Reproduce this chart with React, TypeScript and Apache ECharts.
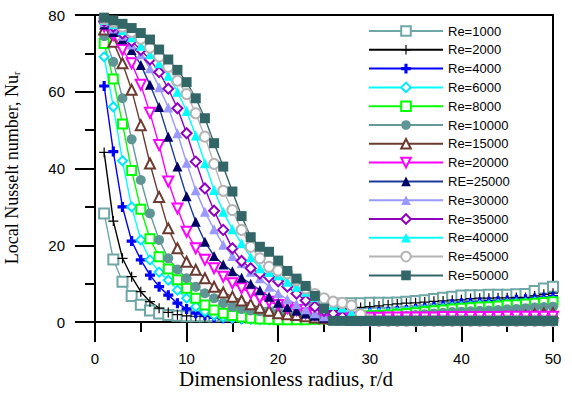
import React, { useEffect, useRef } from "react";
import * as echarts from "echarts";

const radius = [
  1, 2, 3, 4, 5, 6, 7, 8, 9, 10, 11, 12, 13, 14, 15, 16, 17, 18, 19, 20, 21, 22, 23, 24, 25,
  26, 27, 28, 29, 30, 31, 32, 33, 34, 35, 36, 37, 38, 39, 40, 41, 42, 43, 44, 45, 46, 47, 48, 49, 50,
];

const xTicks = { min: 0, max: 50, interval: 10 };
const yTicks = { min: 0, max: 80, interval: 20 };
const xTitle = "Dimensionless radius, r/d";
const yTitle = "Local Nusselt number, Nu";
const yTitleSub = "r";

const re1000 = [
  28.3, 16.3, 10.5, 6.8, 4.5, 3.0, 2.2, 1.8, 1.6, 1.5,
  1.5, 1.5, 1.5, 1.6, 1.7, 1.9, 2.1, 2.3, 2.4, 2.5,
  2.6, 2.8, 3.2, 3.7, 4.2, 4.6, 4.8, 4.9, 4.9, 5.0,
  5.0, 5.0, 5.1, 5.3, 5.5, 5.7, 6.0, 6.3, 6.6, 6.9,
  7.0, 7.0, 7.1, 7.1, 7.1, 7.2, 7.3, 8.1, 8.7, 9.2,
];
const re2000 = [
  44.2, 26.3, 16.6, 11.8, 7.9, 5.3, 3.6, 2.5, 1.9, 1.6,
  1.5, 1.4, 1.4, 1.4, 1.4, 1.4, 1.5, 1.5, 1.6, 1.7,
  1.8, 2.0, 2.2, 2.5, 2.8, 3.1, 3.4, 3.6, 3.8, 4.0,
  4.2, 4.5, 4.7, 4.9, 5.0, 5.2, 5.4, 5.5, 5.7, 5.8,
  6.1, 6.2, 6.2, 6.3, 6.3, 6.4, 6.4, 6.8, 7.2, 7.5,
];
const re4000 = [
  61.5, 44.4, 30.0, 21.1, 16.2, 12.2, 9.2, 7.0, 4.9, 3.4,
  2.3, 1.8, 1.2, 1.0, 0.9, 0.8, 0.8, 0.8, 0.9, 1.0,
  1.1, 1.3, 1.5, 1.7, 1.9, 2.0, 2.1, 2.2, 2.3, 2.4,
  2.6, 2.7, 2.9, 3.1, 3.4, 3.7, 4.0, 4.3, 4.6, 4.9,
  5.0, 5.1, 5.3, 5.4, 5.6, 5.8, 5.9, 6.1, 6.3, 6.6,
];
const re6000 = [
  69.1, 56.1, 42.0, 30.0, 21.4, 16.2, 13.0, 10.9, 8.3, 6.2,
  4.0, 2.7, 1.8, 1.3, 1.0, 0.8, 0.7, 0.6, 0.6, 0.6,
  0.7, 0.8, 0.9, 1.0, 1.2, 1.4, 1.6, 1.8, 2.0, 2.1,
  2.2, 2.3, 2.5, 2.7, 2.9, 3.1, 3.3, 3.5, 3.8, 4.0,
  4.1, 4.3, 4.4, 4.6, 4.7, 4.9, 5.0, 5.2, 5.3, 5.5,
];
const re8000 = [
  72.6, 63.3, 51.6, 39.5, 29.4, 21.7, 17.0, 13.8, 11.0, 8.8,
  6.2, 4.4, 3.1, 2.3, 1.7, 1.3, 1.0, 0.8, 0.7, 0.6,
  0.6, 0.6, 0.6, 0.7, 0.8, 0.9, 1.0, 1.2, 1.4, 1.6,
  1.7, 1.8, 2.0, 2.2, 2.4, 2.7, 2.9, 3.1, 3.4, 3.6,
  3.7, 3.9, 4.0, 4.2, 4.4, 4.5, 4.7, 4.9, 5.1, 5.3,
];
const re10000 = [
  74.5, 67.8, 58.3, 47.6, 37.0, 28.3, 21.4, 16.6, 13.7, 11.4,
  9.2, 7.5, 6.2, 4.9, 4.0, 3.4, 3.0, 2.8, 2.6, 2.4,
  2.2, 2.0, 1.8, 1.6, 1.4, 1.3, 1.2, 1.2, 1.2, 1.2,
  1.3, 1.3, 1.4, 1.6, 1.8, 2.0, 2.2, 2.4, 2.6, 2.7,
  2.8, 2.9, 3.0, 3.1, 3.3, 3.4, 3.6, 3.8, 3.9, 4.0,
];
const re15000 = [
  76.2, 73.0, 67.4, 60.5, 51.3, 41.3, 32.6, 24.4, 19.2, 15.7,
  13.6, 11.4, 9.2, 7.7, 6.6, 5.6, 4.6, 3.7, 2.9, 2.3,
  2.0, 1.8, 1.5, 1.2, 1.0, 0.8, 0.7, 0.6, 0.6, 0.6,
  0.6, 0.6, 0.6, 0.6, 0.6, 0.6, 0.6, 0.7, 0.7, 0.7,
  0.7, 0.8, 0.8, 0.9, 1.0, 1.3, 1.6, 2.0, 2.2, 2.3,
];
const re20000 = [
  77.0, 74.8, 70.9, 67.4, 61.8, 54.5, 46.1, 36.6, 29.6, 23.5,
  19.2, 16.2, 14.0, 11.8, 10.1, 8.8, 7.5, 6.2, 5.3, 4.4,
  3.6, 3.1, 2.3, 1.8, 1.4, 1.2, 1.1, 1.1, 1.1, 1.1,
  1.1, 1.2, 1.2, 1.2, 1.2, 1.2, 1.2, 1.3, 1.3, 1.3,
  1.3, 1.3, 1.3, 1.3, 1.4, 1.4, 1.4, 1.4, 1.4, 1.4,
];
const re25000 = [
  77.5, 75.6, 73.7, 70.9, 67.0, 61.8, 56.0, 48.3, 40.5, 32.8,
  26.1, 20.9, 17.2, 15.0, 13.2, 11.5, 10.0, 8.3, 6.6, 5.0,
  3.9, 3.0, 2.2, 1.6, 1.1, 0.7, 0.5, 0.4, 0.4, 0.4,
  0.4, 0.4, 0.4, 0.4, 0.4, 0.4, 0.4, 0.4, 0.4, 0.4,
  0.4, 0.4, 0.4, 0.4, 0.4, 0.4, 0.4, 0.4, 0.4, 0.4,
];
const re30000 = [
  78.1, 76.5, 74.6, 72.3, 69.8, 66.1, 61.2, 55.9, 49.2, 41.5,
  34.3, 28.7, 24.2, 20.1, 17.2, 15.3, 13.1, 11.4, 9.2, 7.5,
  5.9, 4.7, 3.3, 2.3, 1.5, 1.0, 0.6, 0.4, 0.4, 0.4,
  0.4, 0.4, 0.4, 0.4, 0.4, 0.4, 0.4, 0.4, 0.4, 0.4,
  0.4, 0.4, 0.4, 0.4, 0.4, 0.4, 0.4, 0.4, 0.4, 0.4,
];
const re35000 = [
  78.4, 77.0, 75.2, 73.2, 70.9, 68.4, 65.1, 60.8, 55.7, 49.2,
  41.8, 34.8, 29.0, 24.0, 19.2, 15.9, 14.0, 12.6, 11.7, 10.6,
  9.2, 7.4, 5.6, 4.0, 2.9, 2.2, 1.4, 0.8, 0.5, 0.3,
  0.3, 0.3, 0.3, 0.3, 0.3, 0.3, 0.3, 0.3, 0.3, 0.3,
  0.3, 0.3, 0.3, 0.3, 0.3, 0.3, 0.3, 0.3, 0.3, 0.3,
];
const re40000 = [
  78.7, 77.6, 76.0, 74.2, 72.0, 69.8, 67.4, 64.2, 60.0, 55.0,
  48.6, 41.4, 34.4, 28.7, 24.2, 20.5, 16.9, 14.0, 13.0, 12.2,
  10.5, 9.2, 7.9, 6.6, 5.3, 4.4, 3.8, 2.5, 1.0, 0.4,
  0.3, 0.3, 0.3, 0.3, 0.3, 0.3, 0.3, 0.3, 0.3, 0.3,
  0.3, 0.3, 0.3, 0.3, 0.3, 0.3, 0.3, 0.3, 0.3, 0.3,
];
const re45000 = [
  79.0, 78.2, 77.0, 75.6, 73.8, 71.5, 69.2, 66.5, 62.9, 59.4,
  54.4, 48.3, 41.2, 34.2, 29.2, 24.0, 19.6, 16.6, 14.4, 13.4,
  12.7, 10.9, 8.8, 7.3, 6.2, 5.3, 5.0, 4.3, 2.0, 0.5,
  0.3, 0.3, 0.3, 0.3, 0.3, 0.3, 0.3, 0.3, 0.3, 0.3,
  0.3, 0.3, 0.3, 0.3, 0.3, 0.3, 0.3, 0.3, 0.3, 0.3,
];
const re50000 = [
  79.3, 78.6, 77.7, 76.6, 75.3, 73.6, 71.0, 68.4, 65.7, 62.5,
  58.3, 53.1, 46.6, 40.5, 34.0, 27.6, 22.1, 19.6, 18.3, 16.0,
  13.3, 11.3, 9.4, 6.8, 3.5, 0.3, 0.3, 0.3, 0.3, 0.3,
  0.3, 0.3, 0.3, 0.3, 0.3, 0.3, 0.3, 0.3, 0.3, 0.3,
  0.3, 0.3, 0.3, 0.3, 0.3, 0.3, 0.3, 0.3, 0.3, 0.3,
];

const seriesNames = [
  "Re=1000", "Re=2000", "Re=4000", "Re=6000", "Re=8000", "Re=10000", "Re=15000",
  "Re=20000", "RE=25000", "Re=30000", "Re=35000", "Re=40000", "Re=45000", "Re=50000",
];
const seriesValues = [
  re1000, re2000, re4000, re6000, re8000, re10000, re15000,
  re20000, re25000, re30000, re35000, re40000, re45000, re50000,
];

const thinPlus = "path://M4.4,0H5.6V4.4H10V5.6H5.6V10H4.4V5.6H0V4.4H4.4Z";
const thickPlus = "path://M3.4,0H6.6V3.4H10V6.6H6.6V10H3.4V6.6H0V3.4H3.4Z";

type Style = {
  line: string;
  mark: string;
  symbol: string;
  size: number;
  border: number;
  rotate?: number;
};

const styles: Style[] = [
  { line: "#6fa6a6", mark: "#6fa6a6", symbol: "emptyRect", size: 10, border: 1.3 },
  { line: "#000000", mark: "#000000", symbol: thinPlus, size: 10, border: 0 },
  { line: "#0000ff", mark: "#0000ff", symbol: thickPlus, size: 10, border: 0 },
  { line: "#00ffff", mark: "#00e6ff", symbol: "emptyDiamond", size: 9, border: 1.3 },
  { line: "#00ff00", mark: "#00ff00", symbol: "emptyRect", size: 9, border: 3 },
  { line: "#669999", mark: "#5f9595", symbol: "circle", size: 10, border: 0 },
  { line: "#6b3a30", mark: "#6b3a30", symbol: "emptyTriangle", size: 10, border: 1.3 },
  { line: "#ff00ff", mark: "#ff00ff", symbol: "emptyTriangle", size: 10, border: 1.3, rotate: 180 },
  { line: "#1a3a99", mark: "#000066", symbol: "triangle", size: 10, border: 0 },
  { line: "#9999ff", mark: "#9999ff", symbol: "triangle", size: 10, border: 0 },
  { line: "#9000c0", mark: "#9000c0", symbol: "emptyDiamond", size: 10, border: 2.6 },
  { line: "#00ffff", mark: "#00ffff", symbol: "triangle", size: 10, border: 0 },
  { line: "#b4b4b4", mark: "#b4b4b4", symbol: "emptyCircle", size: 10, border: 1.3 },
  { line: "#336666", mark: "#336666", symbol: "rect", size: 10, border: 0 },
];

const sans = "Liberation Sans";
const serif = "Liberation Serif";

export default function App() {
  const ref = useRef<HTMLDivElement>(null);

  useEffect(() => {
    if (!ref.current) return;
    const chart = echarts.init(ref.current, undefined, { renderer: "svg" });

    const series = seriesNames.map((name, i) => {
      const s = styles[i];
      return {
        type: "line",
        name,
        xAxisIndex: 0,
        yAxisIndex: 0,
        data: radius.map((r, j) => [r, seriesValues[i][j]]),
        symbol: s.symbol,
        symbolSize: s.size,
        symbolRotate: s.rotate || 0,
        showAllSymbol: true,
        lineStyle: { color: s.line, width: 1.4 },
        itemStyle: {
          color: s.mark,
          borderColor: s.mark,
          borderWidth: s.border,
        },
      };
    });

    chart.setOption({
      animation: false,
      grid: { left: 95, top: 15, right: 19, bottom: 74 },
      legend: {
        orient: "vertical",
        left: 368,
        top: 24,
        padding: 0,
        itemWidth: 74,
        itemHeight: 12,
        itemGap: 4.8,
        textStyle: { fontFamily: sans, fontSize: 13, color: "#000", lineHeight: 14 },
        data: seriesNames,
      },
      graphic: [
        {
          type: "text",
          left: "center",
          top: 368,
          style: { text: xTitle, font: `21px "${serif}"`, fill: "#000" },
        },
        {
          type: "text",
          x: 12,
          y: 168,
          rotation: Math.PI / 2,
          style: {
            text: `{a|${yTitle}}{b|${yTitleSub}}`,
            align: "center",
            verticalAlign: "middle",
            rich: {
              a: { fontFamily: serif, fontSize: 18, fill: "#000" },
              b: { fontFamily: serif, fontSize: 10, fill: "#000", verticalAlign: "bottom" },
            },
          },
        },
      ],
      xAxis: [
        {
          type: "value",
          position: "bottom",
          min: xTicks.min,
          max: xTicks.max,
          interval: xTicks.interval,
          axisLine: { show: true, onZero: false, lineStyle: { color: "#000000", width: 2 } },
          axisTick: { show: true, inside: false, length: 20, lineStyle: { color: "#000000", width: 2 } },
          minorTick: { show: true, splitNumber: 2, length: 10, lineStyle: { color: "#000000", width: 2 } },
          splitLine: { show: false },
          axisLabel: { show: true, margin: 29, fontSize: 15, color: "#000" },
        },
        {
          type: "value",
          position: "top",
          min: xTicks.min,
          max: xTicks.max,
          interval: xTicks.interval,
          axisLine: { show: true, onZero: false, lineStyle: { color: "#000000", width: 2 } },
          axisTick: { show: false },
          axisLabel: { show: false },
          splitLine: { show: false },
        },
      ],
      yAxis: [
        {
          type: "value",
          position: "left",
          min: yTicks.min,
          max: yTicks.max,
          interval: yTicks.interval,
          axisLine: { show: true, onZero: false, lineStyle: { color: "#000000", width: 2 } },
          axisTick: { show: true, inside: false, length: 20, lineStyle: { color: "#000000", width: 2 } },
          minorTick: { show: true, splitNumber: 2, length: 10, lineStyle: { color: "#000000", width: 2 } },
          splitLine: { show: false },
          axisLabel: { show: true, margin: 30, fontSize: 15, color: "#000" },
        },
        {
          type: "value",
          position: "right",
          min: yTicks.min,
          max: yTicks.max,
          interval: yTicks.interval,
          axisLine: { show: true, onZero: false, lineStyle: { color: "#000000", width: 2 } },
          axisTick: { show: false },
          axisLabel: { show: false },
          splitLine: { show: false },
        },
      ],
      series,
    });

    return () => chart.dispose();
  }, []);

  return (
    <div
      ref={ref}
      style={{ position: "absolute", left: 0, top: 0, width: 572, height: 396, background: "#fff" }}
    />
  );
}
